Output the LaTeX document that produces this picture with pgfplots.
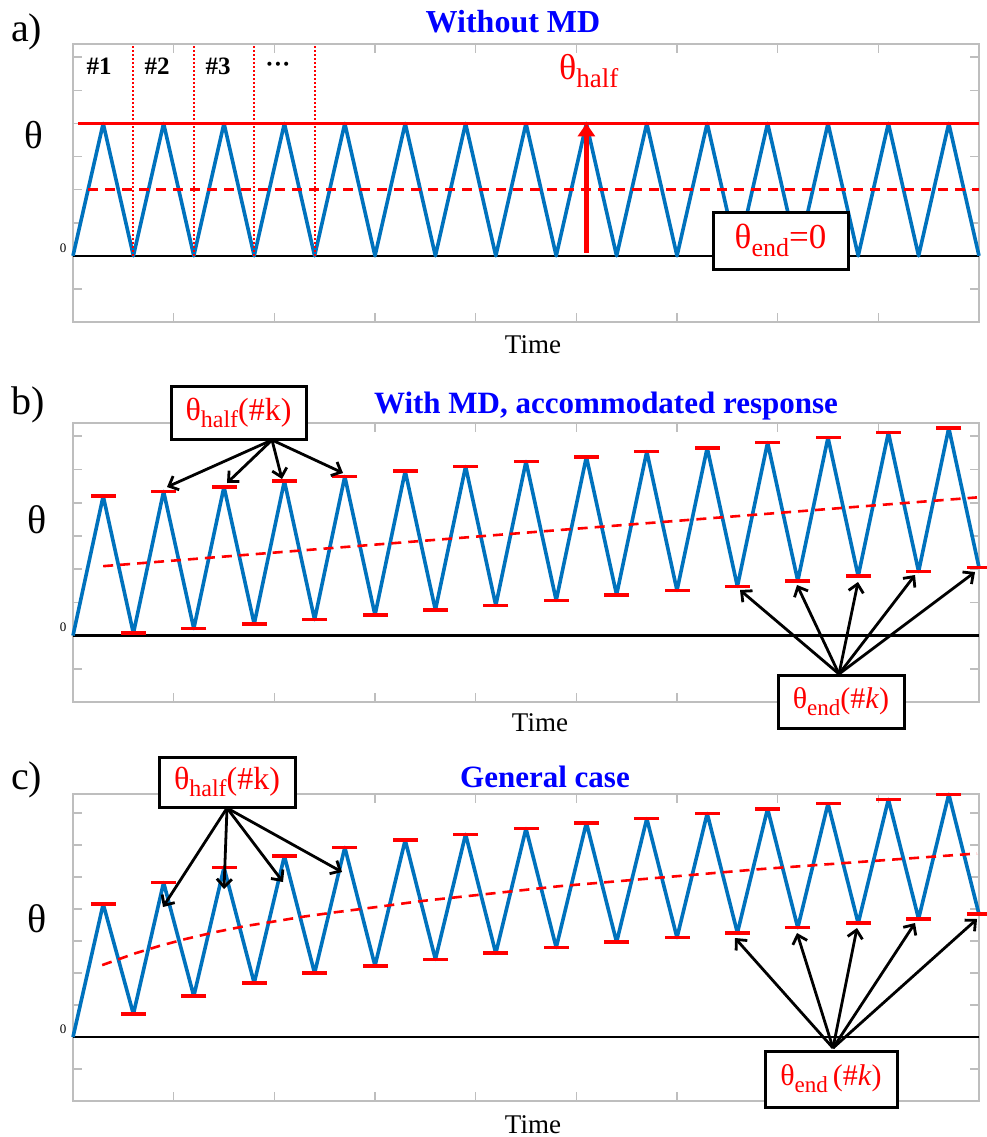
\documentclass[border=0pt]{standalone}
\usepackage{fontspec}
\setmainfont{Liberation Serif}
\usepackage{pgfplots}
\pgfplotsset{compat=1.18}
\usetikzlibrary{arrows.meta}
\definecolor{mblue}{RGB}{0,114,189}
\definecolor{tblue}{RGB}{0,0,255}
\definecolor{axgray}{RGB}{190,190,190}

\newcommand{\thalf}{{\fontsize{32}{36}\selectfont θ}\raisebox{-7pt}{\fontsize{24}{28}\selectfont half}{\fontsize{32}{36}\selectfont (\#k)}}
\newcommand{\tendk}[1]{{\fontsize{30}{36}\selectfont θ}\raisebox{-7pt}{\fontsize{23}{28}\selectfont end}{\fontsize{30}{36}\selectfont #1(\#\textit{k})}}

\pgfplotsset{
  panel/.style={
    scale only axis, width=906pt, xmin=0, xmax=9, ymin=-2,
    xtick={1,...,8}, xticklabels={},
    axis line style={axgray, line width=1.6pt},
    major tick style={axgray, line width=1.6pt},
    major tick length=9pt,
    tick align=inside,
    clip=false,
    yticklabel style={font=\fontsize{13}{15}\selectfont, yshift=8pt, xshift=-3pt},
  },
  blueline/.style={mblue, line width=3.6pt, line join=round, no markers},
  bars/.style={only marks, mark=-, mark size=12.5pt, mark options={red, line width=3.6pt}},
  middash/.style={red, line width=2.6pt, dash pattern=on 10pt off 7pt, no markers},
  zeroline/.style={black, line width=2.4pt, no markers},
  vdot/.style={red, line width=2pt, dash pattern=on 2pt off 2pt, no markers},
}
\tikzset{
  ann/.style={black, line width=2.8pt, -{Straight Barb[length=8pt, width=15pt]}},
  abox/.style={draw=black, line width=3pt, fill=white, text=red, inner sep=0pt},
}

\begin{document}
\begin{tikzpicture}
\path[use as bounding box] (0pt,0pt) rectangle (986pt,-1137pt);

% ---------------- panel a ----------------
\begin{axis}[panel, at={(73pt,-322pt)}, anchor=south west, height=278pt,
  ymax=6.4, ytick={-1,0,...,6}, yticklabels={,0,,,,,,}]
\addplot[zeroline] coordinates {(0,0) (9,0)};
\addplot[blueline] coordinates {(0,0) (0.3,4) (0.6,0) (0.9,4) (1.2,0) (1.5,4) (1.8,0) (2.1,4) (2.4,0) (2.7,4) (3.0,0) (3.3,4) (3.6,0) (3.9,4) (4.2,0) (4.5,4) (4.8,0) (5.1,4) (5.4,0) (5.7,4) (6.0,0) (6.3,4) (6.6,0) (6.9,4) (7.2,0) (7.5,4) (7.8,0) (8.1,4) (8.4,0) (8.7,4) (9.0,0)};
\addplot[red, line width=3.4pt, no markers] coordinates {(0.05,4) (9,4)};
\addplot[middash] coordinates {(0.15,2) (9,2)};
\addplot[vdot] coordinates {(0.6,0) (0.6,6.4)};
\addplot[vdot] coordinates {(1.2,0) (1.2,6.4)};
\addplot[vdot] coordinates {(1.8,0) (1.8,6.4)};
\addplot[vdot] coordinates {(2.4,0) (2.4,6.4)};
\draw[red, line width=4.5pt, -{Triangle[length=13pt, width=17pt]}] (axis cs:5.1,0.1) -- (axis cs:5.1,4);
\end{axis}

% ---------------- panel b ----------------
\begin{axis}[panel, at={(73pt,-702pt)}, anchor=south west, height=279pt,
  ymax=6.4, ytick={-1,0,...,6}, yticklabels={,0,,,,,,}]
\addplot[zeroline] coordinates {(0,0) (9,0)};
\addplot[blueline] coordinates {(0,0) (0.3,4.20) (0.6,0.07) (0.9,4.34) (1.2,0.21) (1.5,4.48) (1.8,0.35) (2.1,4.65) (2.4,0.48) (2.7,4.79) (3.0,0.62) (3.3,4.95) (3.6,0.77) (3.9,5.09) (4.2,0.91) (4.5,5.24) (4.8,1.06) (5.1,5.38) (5.4,1.23) (5.7,5.54) (6.0,1.36) (6.3,5.65) (6.6,1.48) (6.9,5.81) (7.2,1.65) (7.5,5.96) (7.8,1.79) (8.1,6.11) (8.4,1.93) (8.7,6.25) (9.0,2.05)};
\addplot[bars] coordinates {(0.3,4.20) (0.6,0.07) (0.9,4.34) (1.2,0.21) (1.5,4.48) (1.8,0.35) (2.1,4.65) (2.4,0.48) (2.7,4.79) (3.0,0.62) (3.3,4.95) (3.6,0.77) (3.9,5.09) (4.2,0.91) (4.5,5.24) (4.8,1.06) (5.1,5.38) (5.4,1.23) (5.7,5.54) (6.0,1.36) (6.3,5.65) (6.6,1.48) (6.9,5.81) (7.2,1.65) (7.5,5.96) (7.8,1.79) (8.1,6.11) (8.4,1.93) (8.7,6.25) (9.0,2.05)};
\addplot[middash] coordinates {(0.3,2.09) (4.84,3.18) (8.98,4.16)};
\end{axis}

% ---------------- panel c ----------------
\begin{axis}[panel, at={(73pt,-1101pt)}, anchor=south west, height=307pt,
  ymax=7.6, ytick={-1,0,...,7}, yticklabels={,0,,,,,,,}]
\addplot[zeroline] coordinates {(0,0) (9,0)};
\addplot[blueline] coordinates {(0,0) (0.3,4.16) (0.6,0.72) (0.9,4.83) (1.2,1.28) (1.5,5.30) (1.8,1.69) (2.1,5.66) (2.4,2.00) (2.7,5.93) (3.0,2.23) (3.3,6.16) (3.6,2.43) (3.9,6.34) (4.2,2.62) (4.5,6.52) (4.8,2.80) (5.1,6.70) (5.4,2.97) (5.7,6.83) (6.0,3.11) (6.3,6.99) (6.6,3.26) (6.9,7.14) (7.2,3.42) (7.5,7.30) (7.8,3.56) (8.1,7.43) (8.4,3.70) (8.7,7.59) (9.0,3.84)};
\addplot[bars] coordinates {(0.3,4.16) (0.6,0.72) (0.9,4.83) (1.2,1.28) (1.5,5.30) (1.8,1.69) (2.1,5.66) (2.4,2.00) (2.7,5.93) (3.0,2.23) (3.3,6.16) (3.6,2.43) (3.9,6.34) (4.2,2.62) (4.5,6.52) (4.8,2.80) (5.1,6.70) (5.4,2.97) (5.7,6.83) (6.0,3.11) (6.3,6.99) (6.6,3.26) (6.9,7.14) (7.2,3.42) (7.5,7.30) (7.8,3.56) (8.1,7.43) (8.4,3.70) (8.7,7.59) (9.0,3.84)};
\addplot[middash] coordinates {(0.29,2.25) (0.62,2.62) (0.86,2.85) (1.11,3.06) (1.41,3.28) (1.71,3.47) (2.01,3.62) (2.30,3.77) (2.60,3.90) (3.05,4.08) (3.45,4.25) (4.84,4.72) (6.82,5.25) (8.98,5.74)};
\end{axis}

% ---------------- texts ----------------
\node[anchor=base west, inner sep=0pt, font=\fontsize{40}{44}\selectfont] at (11pt,-42pt) {a)};
\node[anchor=base west, inner sep=0pt, font=\fontsize{40}{44}\selectfont] at (11pt,-414pt) {b)};
\node[anchor=base west, inner sep=0pt, font=\fontsize{40}{44}\selectfont] at (11pt,-789pt) {c)};

\node[anchor=base, inner sep=0pt, font=\fontsize{39}{44}\selectfont] at (34pt,-148pt) {θ};
\node[anchor=base, inner sep=0pt, font=\fontsize{40}{44}\selectfont] at (37pt,-533pt) {θ};
\node[anchor=base, inner sep=0pt, font=\fontsize{40}{44}\selectfont] at (37pt,-932pt) {θ};

\node[anchor=base, inner sep=0pt, text=tblue, font=\bfseries\fontsize{32}{36}\selectfont] at (513pt,-33pt) {Without MD};
\node[anchor=base, inner sep=0pt, text=tblue, font=\bfseries\fontsize{31}{36}\selectfont] at (606pt,-413pt) {With MD, accommodated response};
\node[anchor=base, inner sep=0pt, text=tblue, font=\bfseries\fontsize{31}{36}\selectfont] at (545pt,-787pt) {General case};

\node[anchor=base, inner sep=0pt, font=\fontsize{27}{30}\selectfont] at (533pt,-353pt) {Time};
\node[anchor=base, inner sep=0pt, font=\fontsize{27}{30}\selectfont] at (540pt,-731pt) {Time};
\node[anchor=base, inner sep=0pt, font=\fontsize{27}{30}\selectfont] at (533pt,-1133pt) {Time};

\node[anchor=base, inner sep=0pt, font=\bfseries\fontsize{25}{28}\selectfont] at (99pt,-75pt) {\#1};
\node[anchor=base, inner sep=0pt, font=\bfseries\fontsize{25}{28}\selectfont] at (157pt,-75pt) {\#2};
\node[anchor=base, inner sep=0pt, font=\bfseries\fontsize{25}{28}\selectfont] at (218pt,-75pt) {\#3};
\node[anchor=base, inner sep=0pt, font=\bfseries\fontsize{25}{28}\selectfont] at (278pt,-73pt) {···};

\node[anchor=base west, inner sep=0pt, text=red] at (559pt,-80pt) {{\fontsize{36}{40}\selectfont θ}\raisebox{-8pt}{\fontsize{27}{30}\selectfont half}};

% boxes
\node[abox, minimum width=135pt, minimum height=57pt] at (780.5pt,-240.5pt)
  {{\fontsize{35}{40}\selectfont θ}\raisebox{-8pt}{\fontsize{26}{30}\selectfont end}{\fontsize{35}{40}\selectfont =0}};

\draw[ann] (272pt,-440pt) -- (167pt,-487pt);
\draw[ann] (272pt,-440pt) -- (227pt,-483pt);
\draw[ann] (272pt,-440pt) -- (282pt,-479pt);
\draw[ann] (272pt,-440pt) -- (343pt,-473pt);
\node[abox, minimum width=135pt, minimum height=53pt] at (238.5pt,-412.5pt) {\thalf};

\draw[ann] (839pt,-674pt) -- (740pt,-590pt);
\draw[ann] (839pt,-674pt) -- (797pt,-585pt);
\draw[ann] (839pt,-674pt) -- (858pt,-582pt);
\draw[ann] (839pt,-674pt) -- (915pt,-575pt);
\draw[ann] (839pt,-674pt) -- (975pt,-572pt);
\node[abox, minimum width=126pt, minimum height=53pt] at (841pt,-701.5pt) {\tendk{}};

\draw[ann] (227pt,-808pt) -- (163pt,-907pt);
\draw[ann] (227pt,-808pt) -- (224pt,-889pt);
\draw[ann] (227pt,-808pt) -- (283pt,-882pt);
\draw[ann] (227pt,-808pt) -- (342pt,-872pt);
\node[abox, minimum width=136pt, minimum height=50pt] at (227pt,-782pt) {\thalf};

\draw[ann] (833pt,-1048pt) -- (735pt,-938pt);
\draw[ann] (833pt,-1048pt) -- (797pt,-933pt);
\draw[ann] (833pt,-1048pt) -- (857pt,-928pt);
\draw[ann] (833pt,-1048pt) -- (915pt,-923pt);
\draw[ann] (833pt,-1048pt) -- (977pt,-919pt);
\node[abox, minimum width=132pt, minimum height=56pt] at (831pt,-1079pt) {\tendk{\,}};
\end{tikzpicture}
\end{document}
